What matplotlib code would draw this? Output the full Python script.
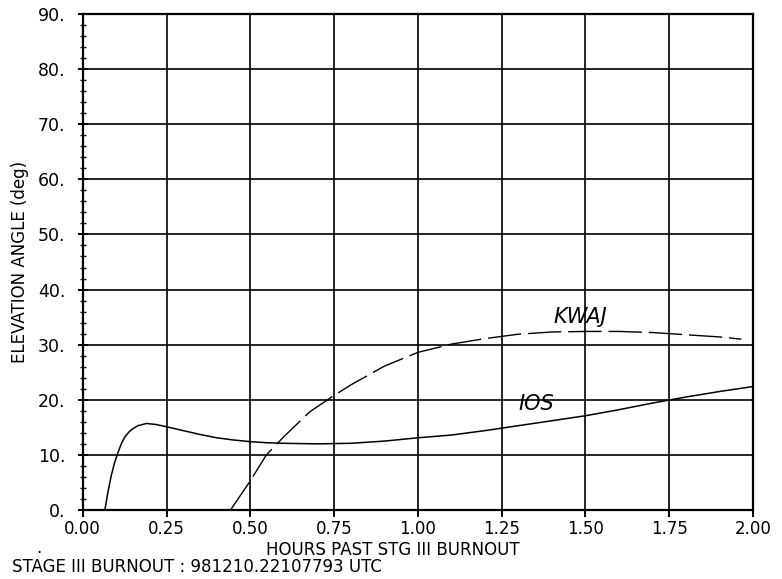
import numpy as np
import matplotlib.pyplot as plt
from matplotlib.ticker import MultipleLocator

# values
ios_t = [0.066, 0.075, 0.085, 0.095, 0.105, 0.115, 0.126, 0.14, 0.151, 0.165, 0.19, 0.22,
         0.25, 0.30, 0.35, 0.40, 0.45, 0.50, 0.55, 0.60, 0.70, 0.80, 0.90, 1.00, 1.10,
         1.20, 1.30, 1.40, 1.50, 1.60, 1.70, 1.80, 1.90, 2.00]
ios_el = [0.0, 3.2, 6.2, 8.6, 10.4, 12.0, 13.3, 14.3, 14.8, 15.3, 15.7, 15.5,
          15.1, 14.4, 13.7, 13.1, 12.7, 12.4, 12.2, 12.1, 12.0, 12.1, 12.5, 13.1, 13.6,
          14.4, 15.3, 16.2, 17.1, 18.2, 19.4, 20.5, 21.5, 22.4]

kwaj_t = [0.441, 0.50, 0.548, 0.60, 0.677, 0.75, 0.80, 0.90, 1.00, 1.10, 1.20, 1.30,
          1.40, 1.50, 1.60, 1.70, 1.80, 1.90, 1.965]
kwaj_el = [0.0, 5.3, 10.0, 13.3, 17.8, 20.8, 22.7, 26.1, 28.6, 30.1, 31.1, 31.9,
           32.3, 32.4, 32.4, 32.2, 31.8, 31.4, 31.0]

xticks = [0.0, 0.25, 0.5, 0.75, 1.0, 1.25, 1.5, 1.75, 2.0]
xlabels = ['0.00', '0.25', '0.50', '0.75', '1.00', '1.25', '1.50', '1.75', '2.00']
yticks = list(range(0, 91, 10))
ylabels = ['%d.' % v for v in yticks]

plt.rcParams['font.family'] = 'DejaVu Sans'
fig = plt.figure(figsize=(7.82, 5.79), dpi=100)
ax = fig.add_axes([0.1058, 0.1192, 0.8572, 0.8566])

ax.plot(ios_t, ios_el, color='black', lw=1.1)
ax.plot(kwaj_t, kwaj_el, color='black', lw=1.0, linestyle=(0, (24, 5)))

ax.set_xlim(0, 2)
ax.set_ylim(0, 90)
ax.set_xticks(xticks)
ax.set_xticklabels(xlabels)
ax.set_yticks(yticks)
ax.set_yticklabels(ylabels)
ax.yaxis.set_minor_locator(MultipleLocator(2))
ax.grid(True, color='black', lw=1.2)
ax.set_axisbelow(True)
for s in ax.spines.values():
    s.set_linewidth(1.6)

ax.tick_params(axis='x', direction='out', length=5, width=1.4, labelsize=12, pad=2)
ax.tick_params(axis='y', which='major', direction='inout', length=7, width=1.4, labelsize=12.5, pad=9)
ax.tick_params(axis='y', which='minor', direction='inout', length=4, width=1.0)

ax.set_ylabel('ELEVATION ANGLE (deg)', fontsize=12, labelpad=6)
fig.text(393/782, 1 - 550/579, 'HOURS PAST STG III BURNOUT', fontsize=12,
         ha='center', va='center')
fig.text(12/782, 1 - 567/579, 'STAGE III BURNOUT : 981210.22107793 UTC', fontsize=12,
         ha='left', va='center')
fig.text(39/782, 1 - 548/579, '.', fontsize=12, ha='center', va='center')

# handwritten labels
ax.text(1.486, 35.0, 'KWAJ', fontsize=15, style='italic', ha='center', va='center')
ax.text(1.352, 19.3, 'IOS', fontsize=15, style='italic', ha='center', va='center')

fig.savefig('out.png', dpi=100)
